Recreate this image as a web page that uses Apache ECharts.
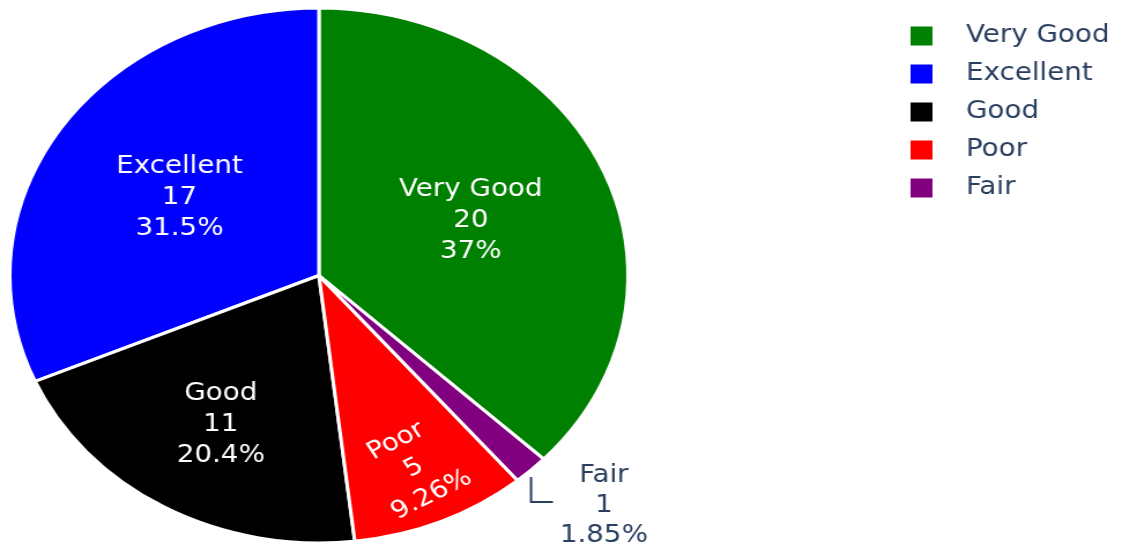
<!DOCTYPE html>
<html>
<head>
<meta charset="utf-8">
<script src="https://cdn.jsdelivr.net/npm/echarts@6/dist/echarts.min.js"></script>
<style>
  html, body { margin: 0; padding: 0; background: #fff; overflow: hidden; }
  /* the reference is stretched sideways, so draw narrower and stretch the div */
  #main { width: 971px; height: 550px; transform: scaleX(1.1555); transform-origin: 0 0; }
</style>
</head>
<body>
<div id="main"></div>
<script>
// data, in legend order
const categories = ["Very Good", "Excellent", "Good", "Poor", "Fair"];
const counts = [20, 17, 11, 5, 1];
const colors = ["#008000", "#0000ff", "#000000", "#ff0000", "#800080"];
// where each inside label sits, as a share of the radius
const labelRadius = [0.535, 0.54, 0.635, 0.776, 0];

const CX = 276, CY = 275.5, R = 267.5;
const total = counts.reduce((a, b) => a + b, 0);
const pct = (v) => parseFloat((v / total * 100).toPrecision(3)) + "%";
const darkText = "#2a3f5f";
const startAngle = 90 - 360 * counts[0] / total; // first slice ends at 12 o'clock

// middle angle of every slice (degrees, counter-clockwise)
const midAngles = [];
let acc = startAngle;
counts.forEach((c) => {
	const span = 360 * c / total;
	midAngles.push(acc + span / 2);
	acc += span;
});

const chart = echarts.init(document.getElementById("main"));

const pieData = categories.map((name, i) => {
	const item = { name: name, value: counts[i], itemStyle: { color: colors[i] } };
	if (name === "Fair") {
		item.label = {
			position: "outside",
			color: darkText,
			formatter: (p) => "{c|" + p.name + "}\n{c|" + p.value + "}\n{c|" + pct(p.value) + "}",
			rich: { c: { width: 78, align: "center", fontSize: 24, lineHeight: 30, color: darkText, fontFamily: "DejaVu Sans" } },
		};
		item.labelLine = { show: true, length: 30, length2: 10, lineStyle: { color: darkText, width: 2 } };
	}
	return item;
});

const option = {
	animation: false,
	backgroundColor: "#fff",
	legend: {
		orient: "vertical",
		left: 781,
		top: 19,
		data: categories,
		icon: "rect",
		itemWidth: 21,
		itemHeight: 21,
		itemGap: 14,
		textStyle: {
			color: darkText,
			fontSize: 24,
			lineHeight: 23,
			fontFamily: "DejaVu Sans",
			padding: [0, 0, 0, 23],
		},
	},
	series: [
		{
			type: "pie",
			center: [CX, CY],
			radius: R,
			clockwise: false,
			startAngle: startAngle,
			itemStyle: { borderColor: "#fff", borderWidth: 3 },
			label: {
				show: true,
				position: "inside",
				color: "#fff",
				fontSize: 24,
				lineHeight: 31,
				fontFamily: "DejaVu Sans",
				formatter: (p) => p.name + "\n" + p.value + "\n" + pct(p.value),
			},
			labelLine: { show: false },
			labelLayout: function (params) {
				const i = params.dataIndex;
				const a = midAngles[i] * Math.PI / 180;
				const cos = Math.cos(a), sin = -Math.sin(a);
				if (categories[i] === "Fair") {
					// L-shaped leader: drop straight down from the rim, then go right
					const ex = CX + R * cos, ey = CY + R * sin;
					const knee = ey + 32;
					return {
						x: ex + 24,
						y: knee + 4,
						align: "left",
						verticalAlign: "middle",
						labelLinePoints: [[ex, ey + 7], [ex, knee], [ex + 19, knee]],
					};
				}
				const out = {
					x: CX + cos * R * labelRadius[i],
					y: CY + sin * R * labelRadius[i] + 2,
					align: "center",
					verticalAlign: "middle",
				};
				if (categories[i] === "Poor") out.rotate = 30;
				return out;
			},
			emphasis: { disabled: true },
			data: pieData,
		},
	],
};
chart.setOption(option, true);
</script>
</body>
</html>
